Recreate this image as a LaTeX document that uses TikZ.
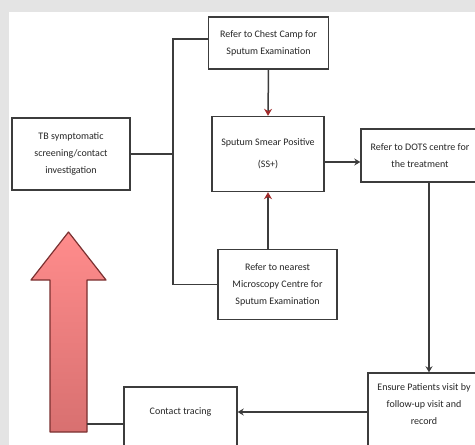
\documentclass[tikz,border=0pt]{standalone}
\usepackage{fontspec}
\setmainfont{Carlito}
\usetikzlibrary{arrows.meta}
\definecolor{pagegray}{HTML}{E4E4E4}
\definecolor{boxline}{HTML}{3C3C3C}
\definecolor{headred}{HTML}{A02A2A}
\definecolor{arrowtop}{HTML}{FF8C8C}
\definecolor{arrowbot}{HTML}{D87070}
\definecolor{arrowrim}{HTML}{7A3030}
\begin{document}
\begin{tikzpicture}[x=1pt, y=-1pt, font=\fontsize{10}{17}\selectfont, text=black!85,
      stepbox/.style={draw=boxline, line width=1.4pt, fill=white, align=center, inner sep=2pt},
      link/.style={boxline, line width=1.5pt},
      feed/.style={link, -{Stealth[length=6pt, width=7pt]}},
      redfeed/.style={link, -{Stealth[length=7pt, width=8pt, color=headred]}}]
    \useasboundingbox (0,0) rectangle (475,445);
    \fill[pagegray] (0,0) rectangle (475,445);
    \fill[white] (9,12) rectangle (475,445);
    \node[stepbox, minimum width=120, minimum height=52] (chest) at (268.5,43)
      {Refer to Chest Camp for\\Sputum Examination};
    \node[stepbox, minimum width=112, minimum height=75] (smear) at (268,154)
      {Sputum Smear Positive\\[5pt](SS+)};
    \node[stepbox, minimum width=118, minimum height=72] (tb) at (71,154)
      {TB symptomatic\\screening/contact\\investigation};
    \node[stepbox, minimum width=118, minimum height=53] (dots) at (420,155.5)
      {Refer to DOTS centre for\\the treatment};
    \node[stepbox, minimum width=119, minimum height=70] (micro) at (277.5,284.5)
      {Refer to nearest\\Microscopy Centre for\\Sputum Examination};
    \node[stepbox, minimum width=112, minimum height=80] (ensure) at (424,413)
      {Ensure Patients visit by\\follow-up visit and\\record\\};
    \node[stepbox, minimum width=113, minimum height=66] (ctrace) at (180.5,420)
      {Contact tracing\\};
    % big arrow pointing back up
    \shade[top color=arrowtop, bottom color=arrowbot, draw=arrowrim, line width=1.2pt, line join=round]
      (50,432) -- (50,280) -- (31,280) -- (68.5,232) -- (106,280) -- (87,280) -- (87,432) -- cycle;
    \coordinate (foot) at (87,424);
    \coordinate (split) at (173,154);
    % connectors
    \draw[link] (tb.east) -- (split);
    \draw[link] ([yshift=4pt]chest.west) -| (split) |- (micro.west);
    \draw[redfeed] (chest.south) -- (smear.north);
    \draw[redfeed] (micro.north -| smear.south) -- (smear.south);
    \draw[feed] ([yshift=-8pt]smear.east) -- ([yshift=-8pt]smear.east -| dots.west);
    \draw[feed] ([xshift=9pt]dots.south) -- ([xshift=9pt]dots.south |- ensure.north);
    \draw[feed] ([yshift=1pt]ensure.west) -- ([yshift=1pt]ensure.west -| ctrace.east);
    \draw[link] ([yshift=-4pt]ctrace.west) -- (foot);
  \end{tikzpicture}
\end{document}
